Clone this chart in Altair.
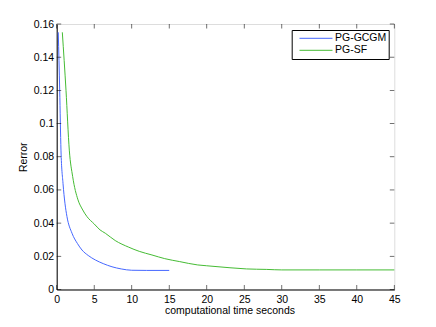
import altair as alt
import pandas as pd

# ---- data ----
series_names = ["PG-GCGM", "PG-SF"]

gcgm_t = [0.21, 0.4, 0.57, 0.84, 1.1, 1.37, 2.04, 2.75, 3.37, 4.2, 5.15, 6.2, 7.37, 8.6, 10.0, 12.0, 15.0]
gcgm_v = [0.155, 0.120, 0.084, 0.064, 0.052, 0.0439, 0.0339, 0.0278, 0.0238, 0.0205, 0.0178, 0.0156, 0.0137, 0.0124, 0.0116, 0.0115, 0.0115]

sf_t = [0.75, 1.24, 1.68, 2.13, 2.84, 3.4, 4.04, 5.0, 5.78, 6.48, 7.8, 9.6, 11.0, 12.7, 14.4, 16.4, 18.8, 20.0, 23.1, 25.3, 28.0, 30.0, 35.0, 40.0, 45.0]
sf_v = [0.155, 0.120, 0.084, 0.068, 0.054, 0.0485, 0.0439, 0.0395, 0.0359, 0.0339, 0.0295, 0.0255, 0.0230, 0.0208, 0.0186, 0.0168, 0.0148, 0.0143, 0.0131, 0.0124, 0.0121, 0.0118, 0.0118, 0.0118, 0.0118]

x_ticks = [0, 5, 10, 15, 20, 25, 30, 35, 40, 45]
y_ticks = [0, 0.02, 0.04, 0.06, 0.08, 0.1, 0.12, 0.14, 0.16]

x_title = "computational time seconds"
y_title = "Rerror"

colors = ["#4466ff", "#44bb33"]

W = 337.6
H = 265.5
FONT = "Liberation Sans"
FS = 10.5

rows = []
for t, v in zip(gcgm_t, gcgm_v):
    rows.append({"t": t, "v": v, "series": series_names[0], "order": len(rows)})
for t, v in zip(sf_t, sf_v):
    rows.append({"t": t, "v": v, "series": series_names[1], "order": len(rows)})
df = pd.DataFrame(rows)

xscale = alt.Scale(domain=[0, 45], nice=False)
yscale = alt.Scale(domain=[0, 0.16], nice=False)

x_axis = alt.Axis(values=x_ticks, tickSize=0, labelPadding=5, grid=False,
                  labelOverlap=False, labelFlush=False,
                  titlePadding=1, titleX=W / 2 + 4, domainColor="black",
                  labelFont=FONT, labelFontSize=FS, titleFont=FONT,
                  titleFontSize=FS, titleFontWeight="normal",
                  labelColor="black", titleColor="black")
y_axis = alt.Axis(values=y_ticks, tickSize=0, labelPadding=3, grid=False,
                  labelOverlap=False, labelFlush=False,
                  format=".2~f", titlePadding=5, domainColor="black",
                  labelFont=FONT, labelFontSize=FS, titleFont=FONT,
                  titleFontSize=FS, titleFontWeight="normal",
                  labelColor="black", titleColor="black")

lines = alt.Chart(df).mark_line(strokeWidth=1, interpolate="monotone").encode(
    x=alt.X("t:Q", scale=xscale, title=x_title, axis=x_axis),
    y=alt.Y("v:Q", scale=yscale, title=y_title, axis=y_axis),
    color=alt.Color("series:N", scale=alt.Scale(domain=series_names, range=colors),
                    title=None,
                    legend=alt.Legend(orient="none", legendX=235, legendY=6,
                                      strokeColor="black", fillColor="white",
                                      padding=2.3, rowPadding=0,
                                      symbolType="M-1,0H5", symbolSize=121,
                                      symbolOffset=5,
                                      symbolStrokeWidth=1, labelOffset=24,
                                      labelFont=FONT, labelFontSize=FS,
                                      labelColor="black", cornerRadius=0)),
    order="order:O",
)

xt_df = pd.DataFrame({"t": x_ticks})
yt_df = pd.DataFrame({"v": y_ticks})

tick_len = 4.5
xt_bottom = alt.Chart(xt_df).mark_tick(orient="vertical", size=tick_len, thickness=0.8, color="black").encode(
    x=alt.X("t:Q", scale=xscale, title=x_title, axis=x_axis), y=alt.value(H - tick_len / 2))
xt_top = alt.Chart(xt_df).mark_tick(orient="vertical", size=tick_len, thickness=0.8, color="black").encode(
    x=alt.X("t:Q", scale=xscale, title=x_title, axis=x_axis), y=alt.value(tick_len / 2))
yt_left = alt.Chart(yt_df).mark_tick(orient="horizontal", size=tick_len, thickness=0.8, color="black").encode(
    y=alt.Y("v:Q", scale=yscale, title=y_title, axis=y_axis), x=alt.value(tick_len / 2))
yt_right = alt.Chart(yt_df).mark_tick(orient="horizontal", size=tick_len, thickness=0.8, color="black").encode(
    y=alt.Y("v:Q", scale=yscale, title=y_title, axis=y_axis), x=alt.value(W - tick_len / 2))

chart = alt.layer(lines, xt_bottom, xt_top, yt_left, yt_right).properties(
    width=W, height=H,
    autosize=alt.AutoSizeParams(type="none"),
    padding={"left": 48.7, "top": 16, "right": 30, "bottom": 30},
).configure_view(stroke="black", strokeWidth=1).configure(background="white")

chart.save("out.html", embed_options={"renderer": "svg", "actions": False})
